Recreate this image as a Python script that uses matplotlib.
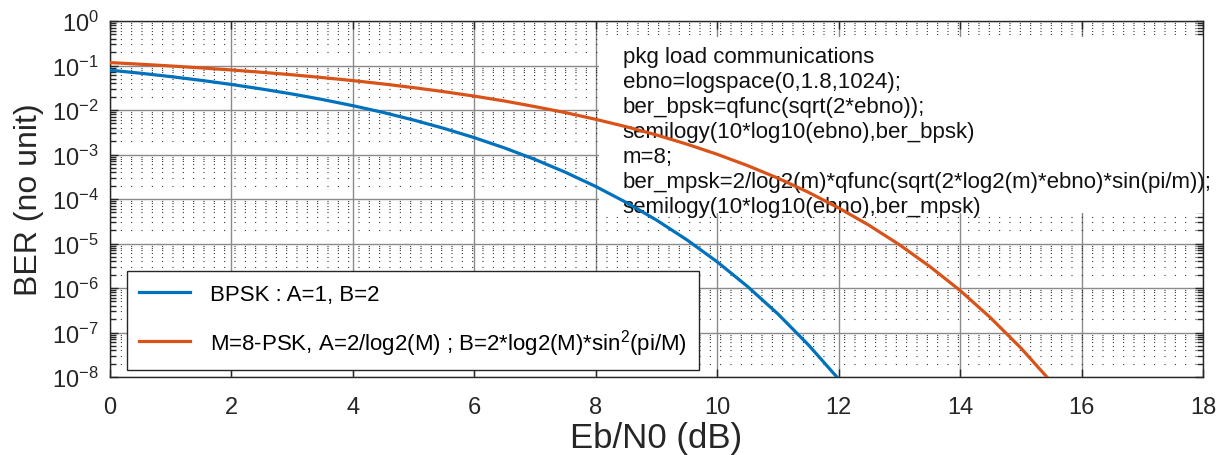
import matplotlib
matplotlib.use("Agg")
import matplotlib.pyplot as plt
from matplotlib.patches import Rectangle
from matplotlib.ticker import LogLocator, NullFormatter

# values
ebno_db_bpsk = [0.0, 0.5, 1.0, 1.5, 2.0, 2.5, 3.0, 3.5, 4.0, 4.5, 5.0, 5.5, 6.0,
                6.5, 7.0, 7.5, 8.0, 8.5, 9.0, 9.5, 10.0, 10.5, 11.0, 11.5, 12.0, 12.5]
ber_bpsk = [7.86e-2, 6.71e-2, 5.63e-2, 4.64e-2, 3.75e-2, 2.96e-2, 2.29e-2, 1.72e-2,
            1.25e-2, 8.8e-3, 5.95e-3, 3.86e-3, 2.39e-3, 1.40e-3, 7.73e-4, 3.99e-4,
            1.91e-4, 8.4e-5, 3.36e-5, 1.21e-5, 3.87e-6, 1.08e-6, 2.61e-7, 5.3e-8,
            9.0e-9, 1.2e-9]

ebno_db_mpsk = [0.0, 0.5, 1.0, 1.5, 2.0, 2.5, 3.0, 3.5, 4.0, 4.5, 5.0, 5.5, 6.0,
                6.5, 7.0, 7.5, 8.0, 8.5, 9.0, 9.5, 10.0, 10.5, 11.0, 11.5, 12.0,
                12.5, 13.0, 13.5, 14.0, 14.5, 15.0, 15.5, 16.0]
ber_mpsk = [1.163e-1, 1.069e-1, 9.76e-2, 8.84e-2, 7.93e-2, 7.04e-2, 6.19e-2, 5.35e-2,
            4.58e-2, 3.85e-2, 3.18e-2, 2.58e-2, 2.05e-2, 1.59e-2, 1.19e-2, 8.74e-3,
            6.17e-3, 4.21e-3, 2.75e-3, 1.71e-3, 1.01e-3, 5.63e-4, 2.94e-4, 1.42e-4,
            6.3e-5, 2.57e-5, 9.4e-6, 3.05e-6, 8.8e-7, 2.15e-7, 4.5e-8, 7.8e-9, 1.1e-9]

x_ticks = [0, 2, 4, 6, 8, 10, 12, 14, 16, 18]
legend_labels = ["BPSK : A=1, B=2",
                 r"M=8-PSK, A=2/log2(M) ; B=2*log2(M)*sin$^2$(pi/M)"]
code_lines = [
    "pkg load communications",
    "ebno=logspace(0,1.8,1024);",
    "ber_bpsk=qfunc(sqrt(2*ebno));",
    "semilogy(10*log10(ebno),ber_bpsk)",
    "m=8;",
    "ber_mpsk=2/log2(m)*qfunc(sqrt(2*log2(m)*ebno)*sin(pi/m));",
    "semilogy(10*log10(ebno),ber_mpsk)",
]

plt.rcParams["font.family"] = ["Liberation Sans", "DejaVu Sans"]
plt.rcParams["mathtext.fontset"] = "custom"
plt.rcParams["mathtext.rm"] = "Liberation Sans"
plt.rcParams["mathtext.it"] = "Liberation Sans:italic"
plt.rcParams["mathtext.bf"] = "Liberation Sans:bold"
plt.rcParams["axes.unicode_minus"] = False

W, H = 1220, 456
fig = plt.figure(figsize=(W / 100, H / 100), dpi=100)
ax = fig.add_axes([110 / W, 1 - 378 / H, (1203 - 110) / W, (378 - 22) / H])

ax.semilogy(ebno_db_bpsk, ber_bpsk, color="#0072BD", lw=2.3, zorder=3)
ax.semilogy(ebno_db_mpsk, ber_mpsk, color="#D95319", lw=2.3, zorder=3)

ax.set_xlim(0, 18)
ax.set_ylim(1e-8, 1)
ax.set_xticks(x_ticks)
ax.yaxis.set_major_locator(LogLocator(base=10, numticks=20))
ax.yaxis.set_minor_locator(LogLocator(base=10, subs=range(2, 10), numticks=20))
ax.yaxis.set_minor_formatter(NullFormatter())

ax.set_axisbelow(True)
ax.grid(which="major", color="#8a8a8a", lw=1.0, ls="-")
ax.grid(which="minor", axis="y", color="#222222", lw=0.8, ls=(0, (0.9, 8.4)))

ax.tick_params(which="both", direction="in", top=True, right=True,
               colors="#262626", labelsize=17)
ax.tick_params(which="major", length=6, width=1)
ax.tick_params(which="minor", length=4, width=1)
ax.tick_params(axis="y", pad=8)
ax.tick_params(axis="x", pad=14)
for sp in ax.spines.values():
    sp.set_color("#262626")
    sp.set_linewidth(1.0)

ax.set_xlabel("Eb/N0 (dB)", fontsize=25, color="#262626", labelpad=2)
ax.set_ylabel("BER (no unit)", fontsize=23, color="#262626", labelpad=6)

# white panel behind the code text
ax.add_patch(Rectangle((0.447, 0.46), 0.553, 0.495, transform=ax.transAxes,
                       facecolor="white", edgecolor="none", zorder=1.5))
ax.text(0.469, 0.93, "\n".join(code_lines), transform=ax.transAxes,
        ha="left", va="top", fontsize=16, linespacing=1.25, color="#111111",
        zorder=2, clip_on=False)

leg = ax.legend(legend_labels, loc="lower left", bbox_to_anchor=(0.0155, 0.02),
                borderaxespad=0, fontsize=16, handlelength=2.3, labelspacing=1.0,
                fancybox=False, framealpha=1, edgecolor="#262626",
                borderpad=0.55, handletextpad=0.9)
leg.get_frame().set_linewidth(1.0)
leg.set_zorder(5)

fig.savefig("out.png", dpi=100)
